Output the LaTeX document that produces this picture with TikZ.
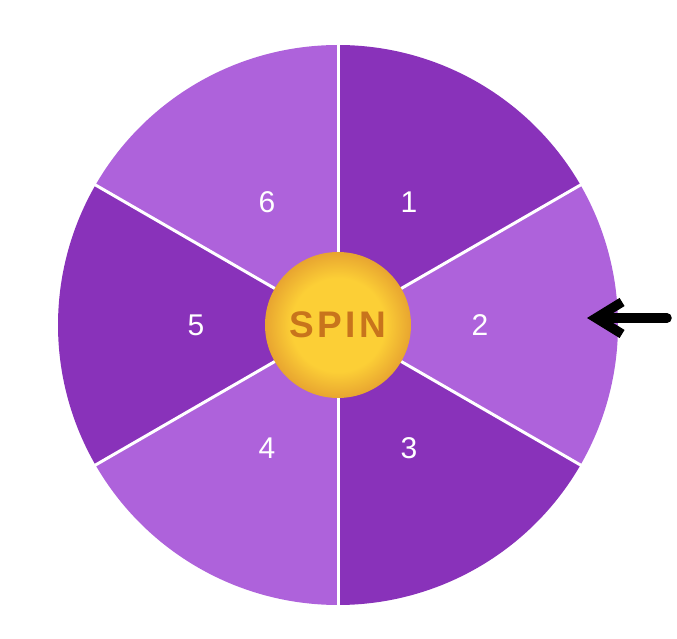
\documentclass[tikz,border=0pt]{standalone}
\usepackage{fontspec}
\setmainfont{Liberation Sans}
\usetikzlibrary{arrows.meta}
\definecolor{dkpurple}{RGB}{137,50,186}
\definecolor{ltpurple}{RGB}{174,98,219}
\definecolor{coinmid}{RGB}{252,207,54}
\definecolor{coinrim}{RGB}{232,165,48}
\definecolor{spintxt}{RGB}{200,116,28}
\pgfdeclareradialshading{coin}{\pgfpoint{0bp}{0bp}}{color(0bp)=(coinmid); color(16bp)=(coinmid); color(25bp)=(coinrim); color(50bp)=(coinrim)}

\begin{document}
\begin{tikzpicture}[x=1pt,y=1pt,line cap=round,line join=round,
  wedgedark/.style={fill=dkpurple},
  wedgelight/.style={fill=ltpurple},
  divider/.style={line width=3pt,white},
  numlabel/.style={text=white,font=\fontsize{30}{30}\selectfont}]
  \useasboundingbox (-338,-314) rectangle (339,325);
  \coordinate (O) at (0,0);
  % wheel
  \fill[wedgedark] (O) -- (90:280) arc (90:30:280) -- cycle;
  \fill[wedgelight] (O) -- (30:280) arc (30:-30:280) -- cycle;
  \fill[wedgedark] (O) -- (-30:280) arc (-30:-90:280) -- cycle;
  \fill[wedgelight] (O) -- (-90:280) arc (-90:-150:280) -- cycle;
  \fill[wedgedark] (O) -- (-150:280) arc (-150:-210:280) -- cycle;
  \fill[wedgelight] (O) -- (150:280) arc (150:90:280) -- cycle;
  \foreach \a in {90,30,...,-210}
    \draw[divider] (O) -- (\a:280);
  \foreach \n/\a in {1/60,2/0,3/-60,4/-120,5/180,6/120}
    \node[numlabel] (n\n) at (\a:142) {\n};
  % centre button
  \shade[shading=coin] (O) circle (73);
  \node[font=\bfseries\fontsize{37}{37}\selectfont\addfontfeature{LetterSpace=9},text=spintxt] (spin) at (O) {SPIN};
  % pointer
  \coordinate (tail) at (329,7);
  \coordinate (tip) at (249,7);
  \draw[-{Straight Barb[length=26pt,width=32pt,sharp]},line width=9.5pt] (tail) -- (tip);
\end{tikzpicture}
\end{document}
